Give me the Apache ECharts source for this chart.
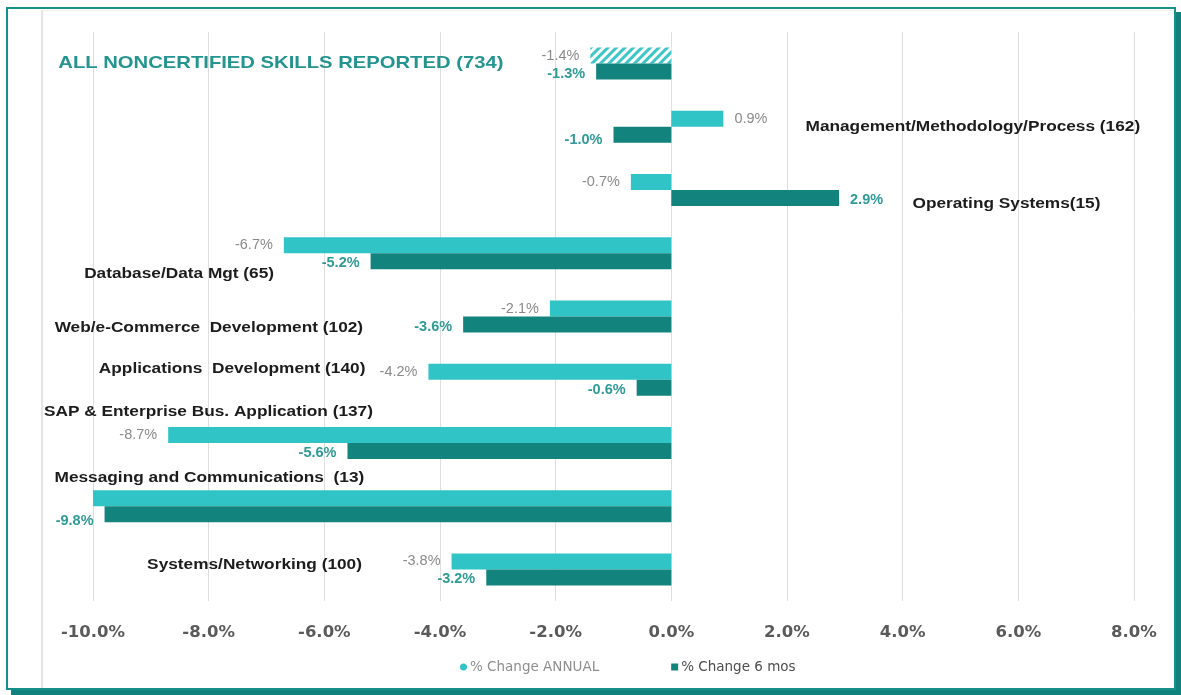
<!DOCTYPE html>
<html>
<head>
<meta charset="utf-8">
<script src="https://cdn.jsdelivr.net/npm/echarts@6.0.0/dist/echarts.min.js"></script>
<style>
  html, body { margin: 0; padding: 0; background: #ffffff; }
  #wrap { position: relative; width: 1181px; height: 695px; overflow: hidden; }
  #frame { position: absolute; left: 6px; top: 7px; width: 1170px; height: 683px; box-sizing: border-box;
           border: 2px solid #17908b; box-shadow: 5px 5px 0 #0f827d; pointer-events: none; }
  #panel { position: absolute; left: 41px; top: 10px; width: 1133px; height: 678px; box-sizing: border-box;
           border-left: 2px solid #e4e4e4; border-top: 1px solid #efefef; pointer-events: none; }
  #chart { position: absolute; left: 0; top: 0; width: 1181px; height: 695px; }
</style>
</head>
<body>
<div id="wrap">
  <div id="frame"></div>
  <div id="panel"></div>
  <div id="chart"></div>
</div>
<script>
// ---- data ----
const categories = [
  'ALL NONCERTIFIED SKILLS REPORTED (734)',
  'Management/Methodology/Process (162)',
  'Operating Systems(15)',
  'Database/Data Mgt (65)',
  'Web/e-Commerce  Development (102)',
  'Applications  Development (140)',
  'SAP & Enterprise Bus. Application (137)',
  'Messaging and Communications  (13)',
  'Systems/Networking (100)'
];
const seriesNames = ['% Change ANNUAL', '% Change 6 mos'];
const annualChange = [-1.4, 0.9, -0.7, -6.7, -2.1, -4.2, -8.7, -10.0, -3.8];
const sixMonthChange = [-1.3, -1.0, 2.9, -5.2, -3.6, -0.6, -5.6, -9.8, -3.2];
const xTickMin = -10;
const xTickMax = 8;
const xTickStep = 2;

// ---- label layout (style, not data) ----
const catLabelLayout = [
  { anchor: -10.6, align: 'left',  dy: 0,   title: true },
  { anchor: 2.32,  align: 'left',  dy: 0 },
  { anchor: 4.17,  align: 'left',  dy: 14 },
  { anchor: -6.87, align: 'right', dy: 21 },
  { anchor: -5.33, align: 'right', dy: 11 },
  { anchor: -5.29, align: 'right', dy: -11 },
  { anchor: -5.16, align: 'right', dy: -31 },
  { anchor: -5.31, align: 'right', dy: -28 },
  { anchor: -5.35, align: 'right', dy: -4 }
];

const ANNUAL_COLOR = '#31c4c6';
const SIX_COLOR = '#13837e';

const chart = echarts.init(document.getElementById('chart'), null, { renderer: 'canvas' });

function fmt(v) { return v.toFixed(1) + '%'; }

const annualData = annualChange.map((v, i) => {
  const item = {
    value: v,
    label: { position: v >= 0 ? 'right' : 'left' }
  };
  if (i === 0) {
    item.itemStyle = {
      color: '#ffffff',
      decal: {
        symbol: 'rect', symbolSize: 1, color: '#3cc6c6', backgroundColor: '#ffffff',
        dashArrayX: [1, 0], dashArrayY: [3, 3], rotation: -Math.PI / 4
      }
    };
  }
  if (i === 7) item.label.show = false;
  return item;
});

const sixData = sixMonthChange.map((v, i) => {
  const item = { value: v, label: { position: v >= 0 ? 'right' : 'left' } };
  if (i === 7) item.label.offset = [0, 7];
  if (i === 1) item.label.offset = [0, 5];
  return item;
});

const option = {
  animation: false,
  backgroundColor: 'transparent',
  grid: { left: 93, right: 47, top: 32, bottom: 94, containLabel: false },
  legend: {
    left: 455, top: 655,
    itemWidth: 7, itemHeight: 7, itemGap: 72,
    data: [
      { name: seriesNames[0], icon: 'circle', textStyle: { color: '#8e8e8e' } },
      { name: seriesNames[1], icon: 'rect', textStyle: { color: '#4d4d4d' } }
    ],
    textStyle: { fontFamily: 'DejaVu Sans', fontSize: 13.5, padding: [0, 0, 0, -2] }
  },
  xAxis: {
    type: 'value',
    min: xTickMin, max: xTickMax, interval: xTickStep,
    axisLine: { show: false },
    axisTick: { show: false },
    splitLine: { show: true, lineStyle: { color: '#dedede', width: 1 } },
    axisLabel: {
      formatter: v => fmt(v), margin: 23,
      fontFamily: 'DejaVu Sans', fontWeight: 'bold', fontSize: 16.5, color: '#5a5a5a'
    }
  },
  yAxis: {
    type: 'category',
    data: categories,
    inverse: true,
    axisLine: { show: false },
    axisTick: { show: false },
    axisLabel: { show: false },
    splitLine: { show: false }
  },
  series: [
    {
      name: seriesNames[0], type: 'bar', data: annualData,
      barWidth: 16, barGap: '0%',
      itemStyle: { color: ANNUAL_COLOR },
      label: {
        show: true, distance: 11, formatter: p => fmt(p.value),
        fontFamily: 'Liberation Sans', fontSize: 14.5, color: '#8a8a8a'
      }
    },
    {
      name: seriesNames[1], type: 'bar', data: sixData,
      barWidth: 16, barGap: '0%',
      itemStyle: { color: SIX_COLOR },
      label: {
        show: true, distance: 11, offset: [0, 2], formatter: p => fmt(p.value),
        fontFamily: 'Liberation Sans', fontWeight: 'bold', fontSize: 14.5, color: '#2f9b96'
      }
    }
  ]
};

chart.setOption(option);

// category labels placed through the library's own scales
const elements = categories.map((name, i) => {
  const lay = catLabelLayout[i];
  const p = chart.convertToPixel({ gridIndex: 0 }, [lay.anchor, i]);
  return {
    type: 'text',
    x: p[0], y: p[1] + lay.dy,
    scaleX: 1.19, scaleY: 1,
    silent: true,
    style: {
      text: name, x: 0, y: 0,
      fill: lay.title ? '#23948f' : '#1c1c1c',
      font: lay.title ? 'bold 17px "Liberation Sans"' : 'bold 14.5px "Liberation Sans"',
      textAlign: lay.align, textVerticalAlign: 'middle',
      align: lay.align, verticalAlign: 'middle'
    }
  };
});
chart.setOption({ graphic: { elements: elements } });
</script>
</body>
</html>
